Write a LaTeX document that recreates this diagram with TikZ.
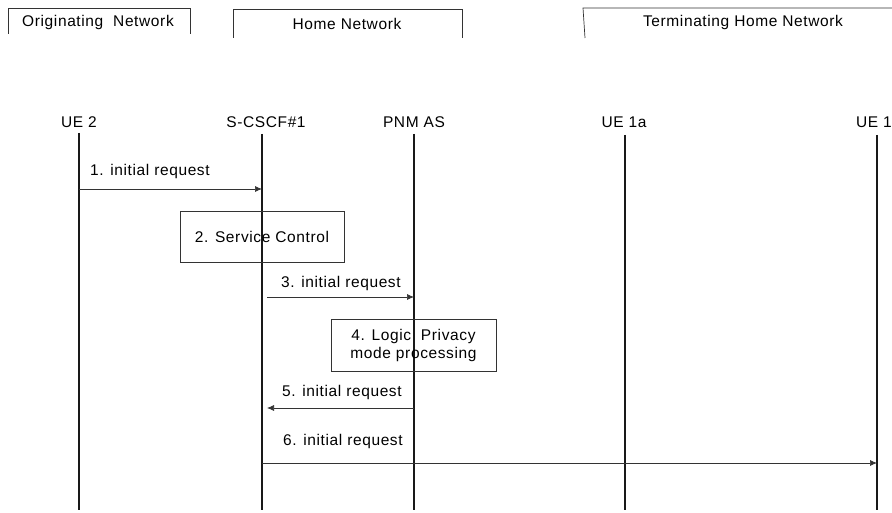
\documentclass[tikz,border=0pt]{standalone}
\usepackage{fontspec}
\setmainfont{Liberation Sans}[LetterSpace=4]
\usetikzlibrary{arrows.meta}
\begin{document}
\begin{tikzpicture}[x=1pt,y=-1pt,
  every node/.style={font=\fontsize{15.5}{18}\selectfont, inner sep=0pt},
  life/.style={line width=1.4pt, draw=black!90},
  msg/.style={line width=0.7pt, draw=black!80, -{Latex[length=7pt,width=6pt]}},
  hdr/.style={line width=0.7pt, draw=black!80},
  proc/.style={draw=black!80, line width=0.7pt, align=center}]
\useasboundingbox (0,0) rectangle (892,513);
% header boxes
\draw[hdr] (8,34) -- (8,8) -- (190,8) -- (190,34);
\node (on) at (98,22) {Originating\ \ Network};
\draw[hdr] (233,38) -- (233,9.5) -- (462,9.5) -- (462,38);
\node (hn) at (347,24) {Home Network};
\draw[hdr] (585,38) -- (583,8) -- (892,8);
\node (tn) at (743,22) {Terminating Home Network};
% entity labels
\node (ue2) at (79,122) {UE 2};
\node (scscf) at (266,122) {S-CSCF\#1};
\node (pnm) at (414,122) {PNM AS};
\node (ue1a) at (624,122) {UE 1a};
\node (ue1) at (874,122) {UE 1};
% lifeline coordinates
\coordinate (ue2t) at (79,133); \coordinate (ue2b) at (79,510);
\coordinate (sct) at (262,134); \coordinate (scb) at (262,510);
\coordinate (pnt) at (414,134); \coordinate (pnb) at (414,510);
\coordinate (u1at) at (625,135); \coordinate (u1ab) at (625,510);
\coordinate (u1t) at (877,135); \coordinate (u1b) at (877,510);
\draw[life] (ue2t) -- (ue2b);
\draw[life] (sct) -- (scb);
\draw[life] (pnt) -- (pnb);
\draw[life] (u1at) -- (u1ab);
\draw[life] (u1t) -- (u1b);
% message 1
\coordinate (m1a) at (79,189); \coordinate (m1b) at (262,189);
\draw[msg] (m1a) -- (m1b);
\node[anchor=west] (l1) at (90,171) {1. initial request};
% box 2
\node[proc, minimum width=164pt, minimum height=51pt] (b2) at (262,236.5) {2. Service Control};
% message 3
\coordinate (m3a) at (267,297); \coordinate (m3b) at (414,297);
\draw[msg] (m3a) -- (m3b);
\node[anchor=west] (l3) at (281,283) {3. initial request};
% box 4
\node[proc, minimum width=165pt, minimum height=52pt] (b4) at (413.5,345) {4. Logic\ \ Privacy\\[0pt]mode processing};
% message 5
\coordinate (m5a) at (414,408); \coordinate (m5b) at (267,408);
\draw[msg] (m5a) -- (m5b);
\node[anchor=west] (l5) at (282,392) {5. initial request};
% message 6
\coordinate (m6a) at (262,463); \coordinate (m6b) at (877,463);
\draw[msg] (m6a) -- (m6b);
\node[anchor=west] (l6) at (283,441) {6. initial request};
\end{tikzpicture}
\end{document}
